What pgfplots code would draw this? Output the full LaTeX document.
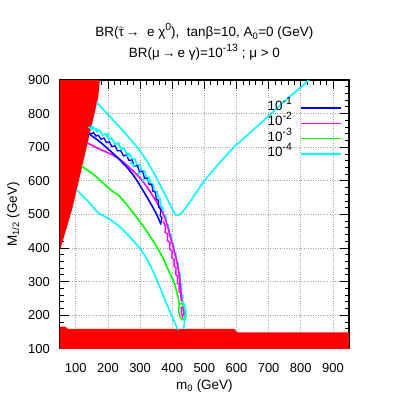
\documentclass[border=0pt]{standalone}
\usepackage{pgfplots}
\pgfplotsset{compat=1.18}
\usepackage{fontspec}
\setmainfont{Liberation Sans}
\definecolor{cBlue}{RGB}{0,0,255}
\definecolor{cMag}{RGB}{255,0,255}
\definecolor{cGreen}{RGB}{0,255,0}
\definecolor{cCyan}{RGB}{0,255,255}
\definecolor{cRed}{RGB}{255,0,0}
\newcommand{\ttau}{$\tilde{\hbox{τ}}$}
\newcommand{\sups}[1]{\raisebox{0.45em}{\fontsize{10.5}{12}\selectfont #1}}
\begin{document}
\begin{tikzpicture}
\useasboundingbox (-59.7bp,-50bp) rectangle (339.3bp,348.8bp);
\begin{axis}[
  at={(0,0)}, anchor=south west,
  scale only axis, width=289.3bp, height=268.8bp,
  xmin=50, xmax=950, ymin=100, ymax=900,
  xtick={100,200,...,900}, ytick={100,200,...,900},
  minor x tick num=4, minor y tick num=4,
  tick align=inside, major tick length=9bp, minor tick length=4.5bp,
  grid=major, major grid style={black!35, dotted, line width=0.7bp},
  axis line style={line width=1.2bp},
  every tick/.style={black, line width=0.8bp},
  /pgf/number format/assume math mode=true,
  /pgf/number format/1000 sep={},
  tick label style={font=\fontsize{13}{15}\selectfont},
  xticklabel style={anchor=base, inner sep=0pt, yshift=-23.9bp},
  yticklabel style={anchor=east, inner sep=0pt, xshift=-9.7bp},
  legend plot pos=right,
  legend image code/.code={\draw[#1] (0bp,0bp) -- (40bp,0bp);},
  legend style={at={(rel axis cs:0.975,0.925)}, anchor=north east, draw=none, fill=none,
    inner sep=0pt, font=\fontsize{13.5}{15}\selectfont, column sep=8bp,
    nodes={inner sep=0pt, text height=10.3bp, text depth=5bp}},
  legend cell align=right,
]
% excluded regions
\addplot[fill=cRed, draw=none, forget plot] coordinates {(50,390) (70,455) (88,513) (103,573) (170,849) (175,900) (50,900)};
\addplot[fill=cRed, draw=none, forget plot] coordinates {(50,100) (50,166) (67,166) (76,159) (593,159) (603,149) (950,149) (950,100)};
% outer cyan (V shape)
\addplot[cCyan, line width=1.6bp, smooth, forget plot] coordinates {(165,833) (190,808) (216,781) (250,745) (299,690) (340,628) (381,553) (400,517) (412,497) (425,501) (440,517) (464,550) (500,600) (546,652) (590,698) (640,741) (700,793) (753,840) (790,870) (825,900)};
% inner cyan
\addplot[cCyan, line width=1.6bp, smooth, forget plot] coordinates {(103,573) (139,538) (170,505) (201,488) (242,459) (299,399) (330,352) (361,285) (382,235) (402,191) (418,156)};
% green
\addplot[cGreen, line width=1.6bp, smooth, forget plot] coordinates {(118,644) (160,615) (206,575) (237,553) (270,515) (299,479) (330,437) (366,380) (390,330) (405,300) (418,255) (422,233)};
\addplot[cGreen, line width=1.4bp, forget plot] coordinates {(422,233) (432,234) (437,215) (440,195) (433,186) (425,193) (420,212) (422,233)};
% cyan wiggle outline
\addplot[cCyan, line width=1.6bp, forget plot] coordinates {(140,760) (150,753) (156,758) (166,746) (173,751) (184,736) (192,740) (203,723) (211,727) (223,709) (231,712) (242,694) (250,697) (259,679) (267,681) (276,663) (284,665) (291,646) (299,648) (306,628) (314,630) (320,609) (328,610) (334,589) (341,590) (346,568) (353,568) (357,546) (363,546) (365,522) (371,521) (373,497) (379,496) (383,470) (388,469) (391,442) (396,441) (399,414) (404,413) (406,387) (411,386) (413,357) (418,356) (419,327) (424,326) (425,297) (429,293) (428,263) (433,259) (432,240) (438,232) (442,215) (442,195) (438,180) (436,160)};
\addplot[cCyan, only marks, mark=*, mark size=1.5bp, forget plot] coordinates {(150,760) (165,752) (200,738) (273,652) (280,645) (296,622) (310,603) (325,600) (262,676) (233,710)};
% magenta
\addplot[cMag, line width=1.6bp, smooth, forget plot] coordinates {(137,712) (175,694) (237,664) (309,598) (371,503) (397,424) (418,344) (427,272) (430,240)};
\addplot[cMag, line width=1.4bp, forget plot] coordinates {(372,480) (379,464) (378,447) (386,441) (385,422) (393,416) (392,397) (400,391) (399,371) (406,366) (406,346) (412,341) (411,321) (417,316) (416,296) (422,291) (421,271) (426,266) (428,245)};
\addplot[cMag, line width=1.4bp, forget plot] coordinates {(428,225) (433,222) (436,205) (432,195) (428,205) (428,225)};
% blue
\addplot[cBlue, line width=1.6bp, smooth, forget plot] coordinates {(140,740) (175,716) (231,668) (275,622) (315,562) (350,503) (365,470)};
\addplot[cBlue, line width=1.3bp, forget plot] coordinates {(142,742) (150,740) (155,744) (163,733) (170,736) (178,724) (188,727) (195,714) (205,716) (212,702) (222,704) (230,689) (240,690) (248,674) (258,677) (265,661) (275,662) (282,644) (292,645) (298,627) (308,628) (314,607) (322,608) (328,589) (336,590) (340,569) (348,566) (350,546) (357,541) (358,521) (364,516) (363,496) (368,490) (365,475)};
% legend
\addlegendimage{cBlue, line width=1.6bp}
\addlegendentry{10\sups{-1}}
\addlegendimage{cMag, line width=1.6bp}
\addlegendentry{10\sups{-2}}
\addlegendimage{cGreen, line width=1.6bp}
\addlegendentry{10\sups{-3}}
\addlegendimage{cCyan, line width=1.6bp}
\addlegendentry{10\sups{-4}}
\end{axis}
\node[anchor=base, font=\fontsize{13.5}{15}\selectfont] at (144.65bp,311.8bp) {BR(\ttau\,→\ \ e χ\sups{0}),\ \ tanβ=10, A\textsubscript{0}=0 (GeV)};
\node[anchor=base, font=\fontsize{13.5}{15}\selectfont] at (144.65bp,291.5bp) {BR(μ\,→\,e γ)=10\sups{-13} ; μ > 0};
\node[anchor=base, font=\fontsize{13.5}{15}\selectfont] at (144.65bp,-41bp) {m\textsubscript{0} (GeV)};
\node[anchor=base, rotate=90, font=\fontsize{13.5}{15}\selectfont] at (-42.7bp,134.4bp) {M\textsubscript{1/2} (GeV)};
\end{tikzpicture}
\end{document}
